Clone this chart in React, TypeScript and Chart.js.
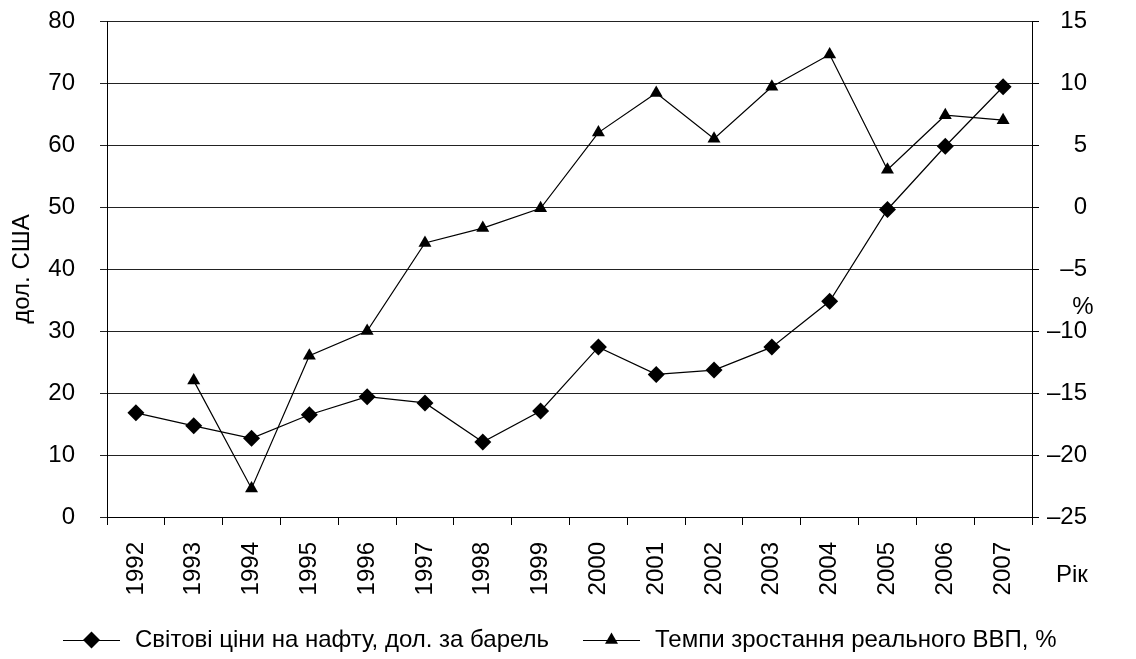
import React, { useEffect, useRef } from 'react';
import { Chart, registerables } from 'chart.js';

Chart.register(...registerables);

const years = ['1992', '1993', '1994', '1995', '1996', '1997', '1998', '1999', '2000', '2001', '2002', '2003', '2004', '2005', '2006', '2007'];
const oilPrices = [16.8, 14.7, 12.7, 16.5, 19.4, 18.4, 12.1, 17.1, 27.4, 23.0, 23.7, 27.4, 34.8, 49.6, 59.8, 69.4];
const gdpGrowth = [null, -14.0, -22.7, -12.0, -10.0, -2.9, -1.7, -0.1, 6.0, 9.2, 5.5, 9.7, 12.3, 3.0, 7.4, 7.0];

const oilLabel = 'Світові ціни на нафту, дол. за барель';
const gdpLabel = 'Темпи зростання реального ВВП, %';
const leftTitle = 'дол. США';
const rightTitle = '%';
const xTitle = 'Рік';

const leftMin = 0, leftMax = 80, leftStep = 10;
const rightMin = -25, rightMax = 15, rightStep = 5;

const FONT = "'Liberation Sans', Arial, sans-serif";
const FS = 24;

function drawDiamond(ctx: CanvasRenderingContext2D, x: number, y: number, r: number) {
  ctx.beginPath();
  ctx.moveTo(x, y - r);
  ctx.lineTo(x + r, y);
  ctx.lineTo(x, y + r);
  ctx.lineTo(x - r, y);
  ctx.closePath();
  ctx.fill();
}
function drawTriangle(ctx: CanvasRenderingContext2D, x: number, y: number, r: number) {
  ctx.beginPath();
  ctx.moveTo(x, y - r);
  ctx.lineTo(x + r * 0.866, y + r * 0.5);
  ctx.lineTo(x - r * 0.866, y + r * 0.5);
  ctx.closePath();
  ctx.fill();
}

const extrasPlugin = {
  id: 'extras',
  afterDraw(chart: any) {
    const ctx = chart.ctx as CanvasRenderingContext2D;
    ctx.save();
    ctx.fillStyle = '#000';
    ctx.strokeStyle = '#000';
    ctx.font = `${FS}px ${FONT}`;
    ctx.textBaseline = 'middle';
    // right axis title
    ctx.textAlign = 'center';
    ctx.fillText(rightTitle, 1083, 307);
    // x axis title
    ctx.textAlign = 'left';
    ctx.fillText(xTitle, 1056, 575);
    // legend
    const ly = 640;
    const items = [
      { x0: 63, label: oilLabel, marker: 'diamond' },
      { x0: 583, label: gdpLabel, marker: 'triangle' },
    ];
    items.forEach((it) => {
      ctx.lineWidth = 1;
      ctx.beginPath();
      ctx.moveTo(it.x0, ly + 0.5);
      ctx.lineTo(it.x0 + 57, ly + 0.5);
      ctx.stroke();
      const cx = it.x0 + 28.5;
      if (it.marker === 'diamond') drawDiamond(ctx, cx, ly, 8.5);
      else drawTriangle(ctx, cx, ly, 7.5);
      ctx.textAlign = 'left';
      ctx.fillText(it.label, it.x0 + 72, ly);
    });
    ctx.restore();
  },
};

export default function App() {
  const ref = useRef<HTMLCanvasElement | null>(null);
  useEffect(() => {
    document.body.style.margin = '0';
    const canvas = ref.current!;
    const chart = new Chart(canvas, {
      type: 'line',
      data: {
        labels: years,
        datasets: [
          {
            label: oilLabel,
            data: oilPrices,
            yAxisID: 'y',
            borderColor: '#000',
            backgroundColor: '#000',
            borderWidth: 1.2,
            pointStyle: 'rectRot',
            pointRadius: 8.5,
            pointBorderWidth: 0,
            tension: 0,
            fill: false,
          },
          {
            label: gdpLabel,
            data: gdpGrowth,
            yAxisID: 'y1',
            borderColor: '#000',
            backgroundColor: '#000',
            borderWidth: 1.2,
            pointStyle: 'triangle',
            pointRadius: 7.5,
            pointBorderWidth: 0,
            tension: 0,
            fill: false,
          },
        ],
      },
      options: {
        responsive: false,
        animation: false,
        layout: { padding: { top: 0, bottom: 62, left: 0, right: 49 } },
        plugins: {
          legend: { display: false },
          tooltip: { enabled: false },
        },
        scales: {
          x: {
            offset: true,
            grid: { display: true, offset: true, drawOnChartArea: false, drawTicks: true, tickLength: 8, color: '#000', lineWidth: 1 },
            border: { display: true, color: '#000', width: 1 },
            ticks: {
              color: '#000',
              font: { family: FONT, size: FS },
              minRotation: 90,
              maxRotation: 90,
              padding: 17,
              autoSkip: false,
            },
            afterFit(scale: any) { scale.height = 80; },
          },
          y: {
            position: 'left',
            min: leftMin,
            max: leftMax,
            grid: { color: '#222', lineWidth: 1, drawTicks: true, tickLength: 7 },
            border: { display: true, color: '#000', width: 1 },
            ticks: {
              stepSize: leftStep,
              color: '#000',
              padding: 25,
              font: { family: FONT, size: FS },
            },
            title: {
              display: true,
              text: leftTitle,
              color: '#000',
              font: { family: FONT, size: FS },
              padding: { top: 8, bottom: 8 },
            },
            afterFit(scale: any) { scale.width = 107; scale.paddingTop = 21; },
          },
          y1: {
            position: 'right',
            min: rightMin,
            max: rightMax,
            grid: { drawOnChartArea: false, color: '#000', drawTicks: true, tickLength: 7 },
            border: { display: true, color: '#000', width: 1 },
            ticks: {
              stepSize: rightStep,
              color: '#000',
              crossAlign: 'far',
              font: { family: FONT, size: FS },
              callback: (v: any) => String(v).replace('-', '–'),
            },
            afterFit(scale: any) { scale.width = 55; scale.paddingTop = 21; },
          },
        },
      },
      plugins: [extrasPlugin],
    });
    return () => chart.destroy();
  }, []);
  return (
    <div style={{ width: 1136, height: 659, background: '#fff' }}>
      <canvas ref={ref} width={1136} height={659} style={{ display: 'block' }} />
    </div>
  );
}
